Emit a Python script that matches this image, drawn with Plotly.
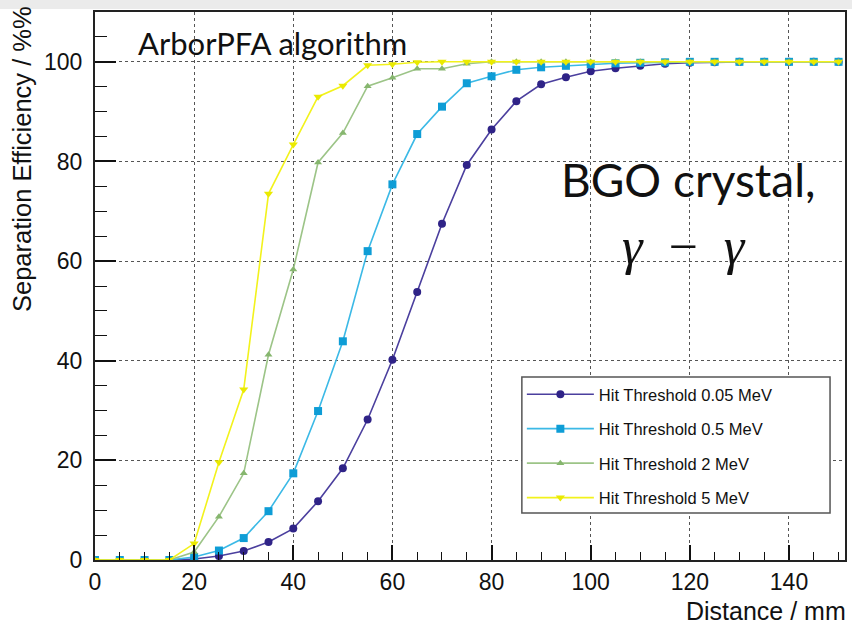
import plotly.graph_objects as go

# Distance between the two photons (mm)
distance = [0, 5, 10, 15, 20, 25, 30, 35, 40, 45, 50, 55, 60, 65, 70, 75,
            80, 85, 90, 95, 100, 105, 110, 115, 120, 125, 130, 135, 140, 145, 150]

# Separation efficiency (%) for each hit threshold
eff_005 = [0, 0, 0, 0, 0.2, 0.8, 1.8, 3.6, 6.3, 11.8, 18.4, 28.2, 40.2, 53.8, 67.5, 79.3,
           86.4, 92.1, 95.5, 96.9, 98.1, 98.7, 99.2, 99.6, 99.8, 99.9, 100, 100, 100, 100, 100]
eff_05 = [0, 0, 0, 0, 0.6, 1.9, 4.4, 9.8, 17.4, 29.9, 43.9, 62.0, 75.4, 85.5, 91.0, 95.7,
          97.1, 98.4, 98.9, 99.2, 99.5, 99.7, 99.8, 99.9, 100, 100, 100, 100, 100, 100, 100]
eff_2 = [0, 0, 0, 0, 1.6, 8.7, 17.4, 41.2, 58.3, 79.8, 85.7, 95.1, 96.8, 98.6, 98.6, 99.6,
         100, 100, 100, 100, 100, 100, 100, 100, 100, 100, 100, 100, 100, 100, 100]
eff_5 = [0, 0, 0, 0, 3.3, 19.6, 34.2, 73.5, 83.4, 93.0, 95.2, 99.3, 99.5, 99.9, 100, 100,
         100, 100, 100, 100, 100, 100, 100, 100, 100, 100, 100, 100, 100, 100, 100]

names = ["Hit Threshold 0.05 MeV", "Hit Threshold 0.5 MeV",
         "Hit Threshold 2 MeV", "Hit Threshold 5 MeV"]
series = [eff_005, eff_05, eff_2, eff_5]
line_colors = ["#4b3f9e", "#3bb9e6", "#9cc487", "#f2f21c"]
marker_colors = ["#2f2387", "#0e9dd6", "#86b66e", "#eaea00"]
symbols = ["circle", "square", "triangle-up", "triangle-down"]
msizes = [8, 8, 7, 8]

fig = go.Figure()
for i, (nm, ys) in enumerate(zip(names, series)):
    fig.add_trace(go.Scatter(
        x=distance, y=ys, name=nm, mode="lines+markers",
        legendgroup=f"g{i}",
        line=dict(color=line_colors[i], width=1.6),
        marker=dict(symbol=symbols[i], size=msizes[i], color=marker_colors[i],
                    line=dict(width=0)),
    ))

helv = "Liberation Sans, Arial, Helvetica, sans-serif"

# legend frame in paper coordinates (plot area: 95..847 px wide, 12..560 px tall)
PW, PH = 752, 548
leg_box = dict(x0=(523 - 95) / PW, x1=(832 - 95) / PW,
               y0=(560 - 513) / PH, y1=(560 - 377) / PH)

fig.update_layout(
    width=852, height=626,
    margin=dict(l=95, r=5, t=12, b=66),
    paper_bgcolor="white", plot_bgcolor="white",
    font=dict(family=helv, color="#111", size=23),
    showlegend=True,
    legend=dict(
        x=leg_box["x0"], y=leg_box["y1"], xanchor="left", yanchor="top",
        bgcolor="rgba(0,0,0,0)", borderwidth=0,
        font=dict(family=helv, size=16.5, color="#111"),
        itemwidth=67, tracegroupgap=10,
    ),
    xaxis=dict(
        range=[0, 151.3], tickmode="linear", tick0=0, dtick=20,
        ticks="inside", ticklen=15, tickwidth=1.5, tickcolor="#111",
        showline=True, linecolor="#222", linewidth=2, mirror=True,
        showgrid=True, gridcolor="#555", griddash="dot", gridwidth=1,
        zeroline=False,
        tickfont=dict(family=helv, size=23, color="#111"),
        minor=dict(dtick=5, ticks="inside", ticklen=8, tickwidth=1.2,
                   tickcolor="#111", showgrid=False),
    ),
    yaxis=dict(
        range=[0, 110], tickmode="linear", tick0=0, dtick=20,
        ticks="inside", ticklen=21, tickwidth=1.5, tickcolor="#111",
        showline=True, linecolor="#222", linewidth=2, mirror=True,
        showgrid=True, gridcolor="#555", griddash="dot", gridwidth=1,
        zeroline=False, ticklabelstandoff=6,
        tickfont=dict(family=helv, size=23, color="#111"),
        minor=dict(dtick=5, ticks="inside", ticklen=12, tickwidth=1.2,
                   tickcolor="#111", showgrid=False),
    ),
    shapes=[
        # soft grey band along the top edge
        dict(type="rect", xref="paper", yref="paper",
             x0=-0.2, x1=1.1, y0=1 + 3 / PH, y1=1 + 12 / PH,
             fillcolor="#ebebeb", line=dict(width=0), layer="below"),
        # legend frame
        dict(type="rect", xref="paper", yref="paper", layer="above",
             fillcolor="white", line=dict(color="#555", width=1.5), **leg_box),
    ],
    annotations=[
        dict(text="Distance / mm", xref="paper", yref="paper", x=1, y=0,
             xanchor="right", yanchor="middle", yshift=-51, xshift=3, showarrow=False,
             font=dict(family=helv, size=25, color="#111")),
        dict(text="Separation Efficiency / %%", xref="paper", yref="paper",
             x=0, y=1, xanchor="center", yanchor="top", xshift=-73, yshift=8,
             textangle=-90, showarrow=False,
             font=dict(family=helv, size=25.5, color="#111")),
        dict(text="ArborPFA algorithm", xref="paper", yref="paper",
             x=(136 - 95) / PW, y=1, xanchor="left", yanchor="middle",
             yshift=-31, showarrow=False,
             font=dict(family="Lato, sans-serif", size=31, color="#111")),
        dict(text="BGO crystal,", xref="paper", yref="paper",
             x=(820 - 95) / PW, y=(560 - 180) / PH, xanchor="right", yanchor="middle",
             showarrow=False,
             font=dict(family="Lato, sans-serif", size=46, color="#111")),
        dict(text="<i>γ</i>  −  <i>γ</i>", xref="paper", yref="paper",
             x=(686 - 95) / PW, y=(560 - 246) / PH, xanchor="center", yanchor="middle",
             showarrow=False,
             font=dict(family="Liberation Serif, serif", size=52, color="#111")),
    ],
)

fig.write_html("out.html")
